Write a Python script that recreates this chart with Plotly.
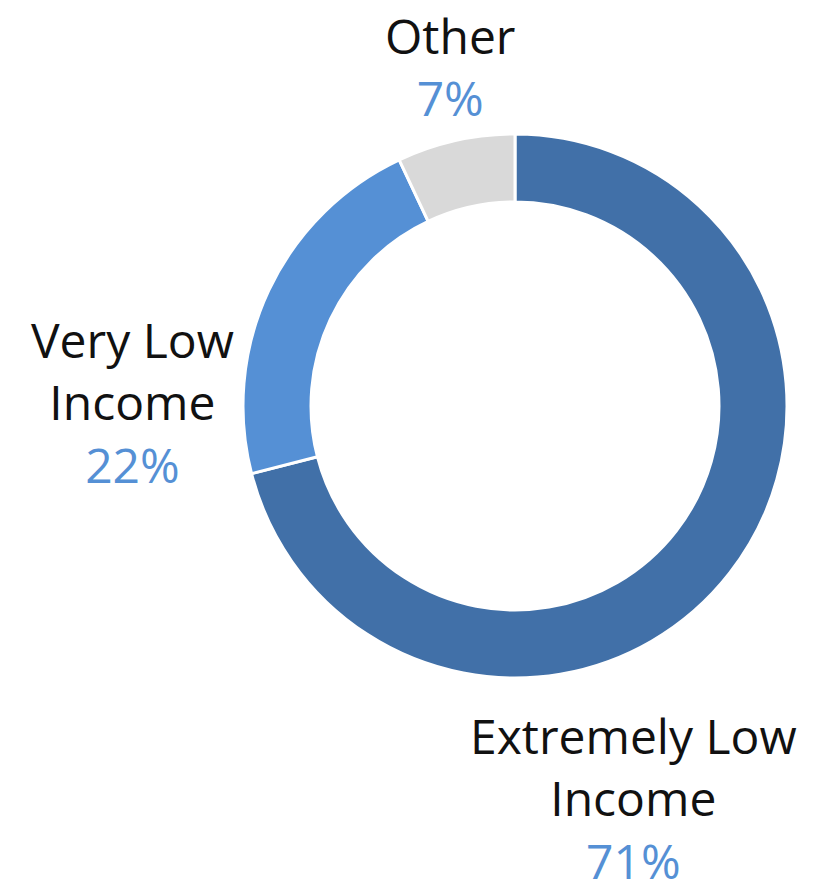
import plotly.graph_objects as go

categories = ["Extremely Low Income", "Very Low Income", "Other"]
values = [71, 22, 7]
colors = ["#4170A8", "#5590D5", "#D9D9D9"]
pct_labels = ["71%", "22%", "7%"]
label_lines = ["Extremely Low<br>Income", "Very Low<br>Income", "Other"]

W, H = 820, 895
cx, cy, r = 515, 406, 272
PCT_COLOR = "#5590D5"

fig = go.Figure(go.Pie(
    labels=categories, values=values, hole=0.75, sort=False,
    direction="clockwise", rotation=0,
    marker=dict(colors=colors, line=dict(color="white", width=3)),
    textinfo="none", hoverinfo="label+percent", showlegend=False,
    domain=dict(x=[(cx - r) / W, (cx + r) / W], y=[(H - cy - r) / H, (H - cy + r) / H]),
))

fam = "'Open Sans', Lato, sans-serif"
SIZE = 48

def label_text(i):
    return f"{label_lines[i]}<br><span style='color:{PCT_COLOR}'>{pct_labels[i]}</span>"

def ann(text, x, y, yanchor):
    fig.add_annotation(text=text, x=x / W, y=1 - y / H, xref="paper", yref="paper",
                       showarrow=False, font=dict(family=fam, size=SIZE, color="#111111"),
                       xanchor="center", yanchor=yanchor, align="center")

ann(label_text(2), 450, 67, "middle")      # Other
ann(label_text(1), 132, 402, "middle")     # Very Low Income
ann(label_text(0), 633, 895, "bottom")     # Extremely Low Income

fig.update_layout(width=W, height=H, margin=dict(l=0, r=0, t=0, b=0),
                  paper_bgcolor="white", plot_bgcolor="white")
fig.write_html("out.html", config={"displayModeBar": False},
               post_script="document.body.style.margin='0';")
